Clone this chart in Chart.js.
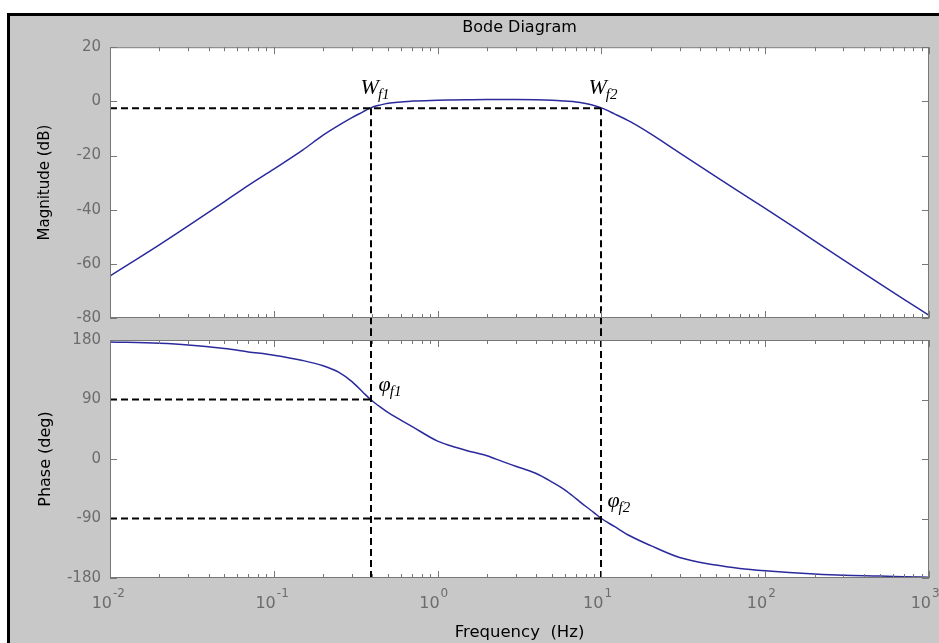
<!DOCTYPE html>
<html>
<head>
<meta charset="utf-8">
<script src="https://cdn.jsdelivr.net/npm/chart.js@4.4.1/dist/chart.umd.min.js"></script>
<style>
  html, body { margin: 0; padding: 0; background: #fff; }
  #page { position: relative; width: 939px; height: 643px; overflow: hidden; }
  #frame { position: absolute; left: 7px; top: 13px; width: 940px; height: 640px;
           border-left: 3px solid #000; border-top: 3px solid #000; background: #c8c8c8; }
  canvas { position: absolute; left: 0; }
  #magCanvas { top: 0; }
  #phaseCanvas { top: 329px; }
</style>
</head>
<body>
<div id="page">
  <div id="frame"></div>
  <canvas id="magCanvas" width="939" height="329"></canvas>
  <canvas id="phaseCanvas" width="939" height="314"></canvas>
</div>
<script>
// values
const freqHz      = [0.01, 0.02, 0.03, 0.05, 0.07, 0.1, 0.15, 0.2, 0.25, 0.3, 0.35, 0.39, 0.45, 0.5, 0.7, 1, 1.2, 1.5, 2, 2.5, 3, 4, 5, 6, 7, 8, 9, 10, 12, 15, 20, 30, 50, 70, 100, 200, 300, 500, 700, 1000];
const magnitudeDb = [-64.5, -53, -46, -37, -31, -25, -18, -12.5, -8.8, -6, -3.9, -2.4, -1.3, -0.7, 0.1, 0.4, 0.5, 0.6, 0.7, 0.7, 0.7, 0.6, 0.4, 0.1, -0.2, -0.8, -1.5, -2.4, -4.6, -7.5, -12, -19, -27.8, -33.5, -39.5, -51.5, -58.5, -67.3, -73, -79];
const phaseDeg    = [177, 175, 172.5, 167, 162, 157, 149, 141, 131, 117, 101, 90, 78, 70, 49, 27, 20, 13, 5, -4, -11, -22, -35, -47, -60, -71.5, -81, -90, -102, -116.5, -131, -149, -160.5, -165.5, -169, -174, -176, -177, -178, -179];

const magTicks = [20, 0, -20, -40, -60, -80];
const phaseTicks = [180, 90, 0, -90, -180];
const decadeExps = [-2, -1, 0, 1, 2, 3];

const cutoffFreqs = [0.39, 10];
const cutoffMagDb = -2.5;
const cutoffPhases = [90, -90];

const curveColor = '#2a2a9c';
const axisGray = '#777777';
const tickGray = '#6c6c6c';
const uiFont = '"DejaVu Sans", Arial, sans-serif';
const mathFont = '"Liberation Serif", "Times New Roman", serif';

function points(ys) {
  return freqHz.map((f, i) => ({ x: f, y: ys[i] }));
}

function fillPlot(chart) {
  const { ctx, chartArea: a } = chart;
  ctx.save();
  ctx.fillStyle = '#fff';
  ctx.fillRect(a.left, a.top, a.right - a.left, a.bottom - a.top);
  ctx.restore();
}

function drawBox(chart, yValues) {
  const { ctx, chartArea: a, scales: { x, y } } = chart;
  ctx.save();
  ctx.strokeStyle = axisGray;
  ctx.lineWidth = 1;
  ctx.strokeRect(a.left + 0.5, a.top + 0.5, a.right - a.left - 1, a.bottom - a.top - 1);
  ctx.beginPath();
  decadeExps.forEach(e => {
    for (let m = 1; m <= 9; m++) {
      const v = m * Math.pow(10, e);
      if (v > x.max * 1.0001) break;
      const px = Math.round(x.getPixelForValue(v)) + 0.5;
      const len = m === 1 ? 7 : 4;
      ctx.moveTo(px, a.top); ctx.lineTo(px, a.top + len);
      ctx.moveTo(px, a.bottom); ctx.lineTo(px, a.bottom - len);
    }
  });
  yValues.forEach(v => {
    const py = Math.round(y.getPixelForValue(v)) + 0.5;
    ctx.moveTo(a.left, py); ctx.lineTo(a.left + 7, py);
    ctx.moveTo(a.right, py); ctx.lineTo(a.right - 7, py);
  });
  ctx.stroke();
  ctx.restore();
}

function dashed(ctx, x1, y1, x2, y2) {
  ctx.beginPath();
  ctx.moveTo(x1, y1);
  ctx.lineTo(x2, y2);
  ctx.stroke();
}

function subLabel(ctx, main, sub, x, y) {
  ctx.fillStyle = '#000';
  ctx.textAlign = 'left';
  ctx.textBaseline = 'alphabetic';
  ctx.font = 'italic 22px ' + mathFont;
  ctx.fillText(main, x, y);
  const w = ctx.measureText(main).width;
  ctx.font = 'italic 15px ' + mathFont;
  ctx.fillText(sub, x + w - 1, y + 5);
}

function yAxis(ticks, min, max, title, titleSize) {
  return {
    min: min, max: max,
    afterBuildTicks: s => { s.ticks = ticks.map(v => ({ value: v })); },
    afterFit: s => { s.width = 110; s.paddingTop = 0; s.paddingBottom = 0; },
    grid: { display: false, drawTicks: false },
    border: { display: false },
    ticks: { color: tickGray, font: { family: uiFont, size: 15 }, padding: 9 },
    title: { display: true, text: title, color: '#000',
             font: { family: uiFont, size: titleSize }, padding: { top: 36 } }
  };
}

const magPlugin = {
  id: 'magFrame',
  beforeDraw: fillPlot,
  afterDatasetsDraw(chart) {
    const { ctx, chartArea: a, scales: { x, y } } = chart;
    const yc = y.getPixelForValue(cutoffMagDb);
    ctx.save();
    ctx.strokeStyle = '#000';
    ctx.lineWidth = 2;
    ctx.setLineDash([7, 4]);
    dashed(ctx, a.left, yc, x.getPixelForValue(cutoffFreqs[1]), yc);
    cutoffFreqs.forEach(f => {
      const px = Math.round(x.getPixelForValue(f));
      dashed(ctx, px, yc, px, chart.height);
    });
    ctx.setLineDash([]);
    const x1 = x.getPixelForValue(cutoffFreqs[0]);
    const x2 = x.getPixelForValue(cutoffFreqs[1]);
    subLabel(ctx, 'W', 'f1', x1 - 10, yc - 14);
    subLabel(ctx, 'W', 'f2', x2 - 13, yc - 14);
    ctx.restore();
    drawBox(chart, magTicks);
  }
};

const phasePlugin = {
  id: 'phaseFrame',
  beforeDraw: fillPlot,
  afterDatasetsDraw(chart) {
    const { ctx, chartArea: a, scales: { x, y } } = chart;
    ctx.save();
    ctx.strokeStyle = '#000';
    ctx.lineWidth = 2;
    ctx.setLineDash([7, 4]);
    cutoffFreqs.forEach((f, i) => {
      const px = Math.round(x.getPixelForValue(f));
      const py = y.getPixelForValue(cutoffPhases[i]);
      dashed(ctx, px, 0, px, a.bottom);
      dashed(ctx, a.left, py, px, py);
    });
    ctx.setLineDash([]);
    const x1 = x.getPixelForValue(cutoffFreqs[0]);
    const x2 = x.getPixelForValue(cutoffFreqs[1]);
    subLabel(ctx, '\u03C6', 'f1', x1 + 8, y.getPixelForValue(cutoffPhases[0]) - 9);
    subLabel(ctx, '\u03C6', 'f2', x2 + 6, y.getPixelForValue(cutoffPhases[1]) - 12);
    ctx.restore();
    drawBox(chart, phaseTicks);

    // decade labels 10^n under the axis
    ctx.save();
    ctx.fillStyle = tickGray;
    ctx.textBaseline = 'alphabetic';
    decadeExps.forEach(e => {
      const px = x.getPixelForValue(Math.pow(10, e));
      ctx.font = '16px ' + uiFont;
      ctx.textAlign = 'right';
      ctx.fillText('10', px + 2, a.bottom + 30);
      ctx.font = '12px ' + uiFont;
      ctx.textAlign = 'left';
      ctx.fillText(String(e), px + 3, a.bottom + 19);
    });
    ctx.restore();
  }
};

const lineStyle = {
  borderColor: curveColor,
  borderWidth: 1.5,
  pointRadius: 0,
  fill: false,
  cubicInterpolationMode: 'monotone'
};

new Chart(document.getElementById('magCanvas'), {
  type: 'line',
  data: { datasets: [{ ...lineStyle, data: points(magnitudeDb) }] },
  options: {
    responsive: false,
    animation: false,
    layout: { padding: { left: 0, right: 10, top: 0, bottom: 11 } },
    plugins: {
      legend: { display: false },
      tooltip: { enabled: false },
      title: { display: true, text: 'Bode Diagram', color: '#000', fullSize: false,
               font: { family: uiFont, size: 16, weight: 'normal', lineHeight: 1.2 },
               padding: { top: 18, bottom: 10 } }
    },
    scales: {
      x: { type: 'logarithmic', min: 0.01, max: 1000, display: false },
      y: yAxis(magTicks, -80, 20, 'Magnitude (dB)', 15)
    }
  },
  plugins: [magPlugin]
});

new Chart(document.getElementById('phaseCanvas'), {
  type: 'line',
  data: { datasets: [{ ...lineStyle, data: points(phaseDeg) }] },
  options: {
    responsive: false,
    animation: false,
    layout: { padding: { left: 0, right: 10, top: 11, bottom: 0 } },
    plugins: { legend: { display: false }, tooltip: { enabled: false } },
    scales: {
      x: {
        type: 'logarithmic', min: 0.01, max: 1000,
        afterFit: s => { s.height = 65; },
        grid: { display: false, drawTicks: false },
        border: { display: false },
        ticks: { display: false },
        title: { display: true, text: 'Frequency  (Hz)', color: '#000',
                 font: { family: uiFont, size: 16.5, lineHeight: 1.2 }, padding: { bottom: 0 } }
      },
      y: yAxis(phaseTicks, -180, 180, 'Phase (deg)', 16)
    }
  },
  plugins: [phasePlugin]
});
</script>
</body>
</html>
